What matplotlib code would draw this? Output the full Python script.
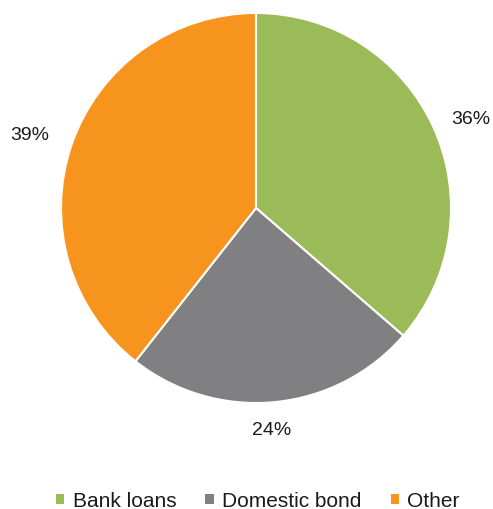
import numpy as np
import matplotlib.pyplot as plt
from matplotlib.patches import Patch

plt.rcParams['font.family'] = ['Liberation Sans', 'DejaVu Sans']

categories = ['Bank loans', 'Domestic bond', 'Other']
shares = [36, 24, 39]
colors = ['#9bbb59', '#808083', '#f7941d']

W, H = 493, 510
cx, cy, R = 256, 209, 195
label_dist = [1.19, 1.13, 1.22]
# small pixel nudges so labels sit where the original put them
label_nudge = [(4, -7), (-5, -2), (-1, -4)]

fig = plt.figure(figsize=(W / 100, H / 100), dpi=100)
ax = fig.add_axes([0, 0, 1, 1])

wedges, texts = ax.pie(shares, colors=colors, startangle=90, counterclock=False,
                       labels=[f'{s}%' for s in shares], labeldistance=1.15,
                       wedgeprops=dict(edgecolor='white', linewidth=1.5),
                       textprops=dict(fontsize=14, color='#1a1a1a'))
for w, t, d, (nx, ny) in zip(wedges, texts, label_dist, label_nudge):
    ang = np.deg2rad((w.theta1 + w.theta2) / 2)
    t.set_position((d * np.cos(ang) + nx / R, d * np.sin(ang) + ny / R))
    t.set_ha('center')
    t.set_va('center')

ax.set_xlim(-cx / R, (W - cx) / R)
ax.set_ylim(-(H - cy) / R, cy / R)
ax.set_aspect('auto')
ax.axis('off')

handles = [Patch(facecolor=c, edgecolor='none') for c in colors]
fig.legend(handles, categories, loc='center', bbox_to_anchor=(0.523, 1 - 502 / H),
           ncol=3, frameon=False, fontsize=15, handlelength=0.4, handleheight=0.4,
           handletextpad=0.4, columnspacing=1.4, labelcolor='#1a1a1a')

fig.savefig('out.png', dpi=100)
